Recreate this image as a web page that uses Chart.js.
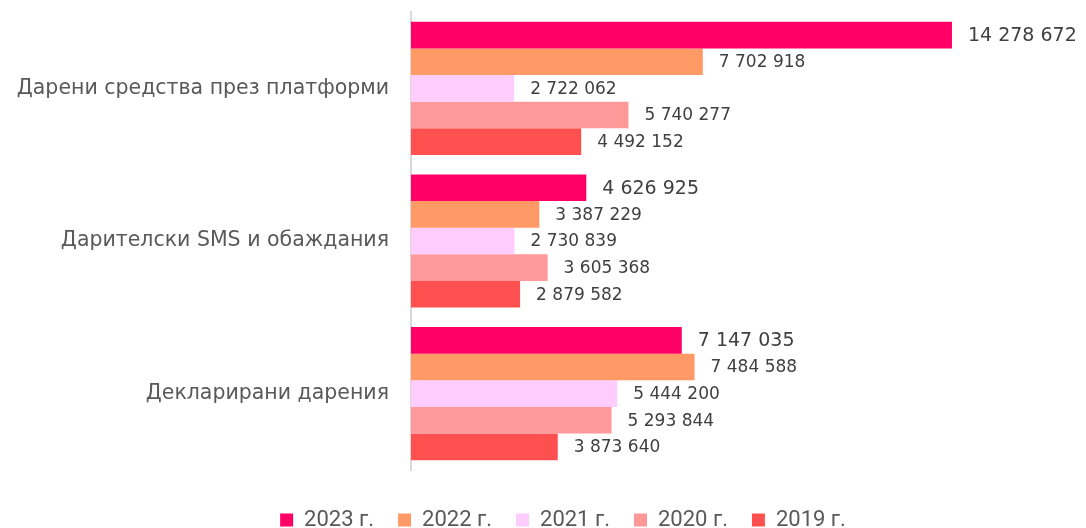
<!DOCTYPE html>
<html>
<head>
<meta charset="utf-8">
<script src="https://cdn.jsdelivr.net/npm/chart.js@4/dist/chart.umd.min.js"></script>
<style>
  html, body { margin: 0; padding: 0; background: #fff; }
  #wrap { width: 1086px; height: 528px; }
</style>
</head>
<body>
<div id="wrap"><canvas id="myChart"></canvas></div>
<script>
'use strict';
// категории и серии
var categories = ['Дарени средства през платформи', 'Дарителски SMS и обаждания', 'Декларирани дарения'];
var years = ['2023 г.', '2022 г.', '2021 г.', '2020 г.', '2019 г.'];
var values2023 = [14278672, 4626925, 7147035];
var values2022 = [7702918, 3387229, 7484588];
var values2021 = [2722062, 2730839, 5444200];
var values2020 = [5740277, 3605368, 5293844];
var values2019 = [4492152, 2879582, 3873640];
var colors = ['#FF0066', '#FF9966', '#FFCCFF', '#FF9999', '#FF5050'];

var FONT = '"DejaVu Sans", sans-serif';

function fmt(v) {
    return String(v).replace(/\B(?=(\d{3})+(?!\d))/g, ' ');
}

// етикети след всяка лента
var valueLabels = {
    id: 'valueLabels',
    afterDatasetsDraw: function (chart) {
        var ctx = chart.ctx;
        ctx.save();
        ctx.fillStyle = '#404040';
        ctx.textAlign = 'left';
        ctx.textBaseline = 'middle';
        chart.data.datasets.forEach(function (ds, i) {
            var meta = chart.getDatasetMeta(i);
            ctx.font = (i === 0 ? '19px ' : '17px ') + FONT;
            meta.data.forEach(function (bar, j) {
                ctx.fillText(fmt(ds.data[j]), bar.x + 16, bar.y + 1);
            });
        });
        ctx.restore();
    }
};

// легендата по-ниско и малко вдясно, както в оригинала
var legendShift = {
    id: 'legendShift',
    afterInit: function (chart) {
        var lg = chart.legend;
        var fit = lg.fit;
        lg.fit = function () {
            fit.call(this);
            this.height = 58;
        };
    },
    afterLayout: function (chart) {
        chart.legend.top += 15;
        chart.legend.bottom += 15;
        chart.legend.left += 26;
        chart.legend.right += 26;
    }
};

var allValues = [values2023, values2022, values2021, values2020, values2019];

var chart = new Chart(document.getElementById('myChart'), {
    type: 'bar',
    data: {
        labels: categories,
        datasets: years.map(function (y, i) {
            return {
                label: y,
                data: allValues[i],
                backgroundColor: colors[i],
                borderWidth: 0,
                categoryPercentage: 0.872,
                barPercentage: 1
            };
        })
    },
    options: {
        indexAxis: 'y',
        responsive: true,
        maintainAspectRatio: false,
        animation: false,
        layout: { padding: { top: 12, right: 12, left: 0, bottom: 0 } },
        scales: {
            x: {
                display: false,
                min: 0,
                max: 17500000
            },
            y: {
                grid: { display: false, drawTicks: false },
                border: { display: true, color: '#D9D9D9', width: 2 },
                ticks: {
                    color: '#595959',
                    font: { family: FONT, size: 20.5 },
                    padding: 22
                },
                afterFit: function (scale) {
                    scale.width = 411;
                    scale.paddingTop = 0;
                    scale.paddingBottom = 0;
                }
            }
        },
        plugins: {
            legend: {
                position: 'bottom',
                labels: {
                    color: '#595959',
                    font: { family: 'Roboto, sans-serif', size: 22 },
                    boxWidth: 13,
                    boxHeight: 13,
                    padding: 24
                }
            },
            tooltip: { enabled: false }
        }
    },
    plugins: [valueLabels, legendShift]
});
</script>
</body>
</html>
